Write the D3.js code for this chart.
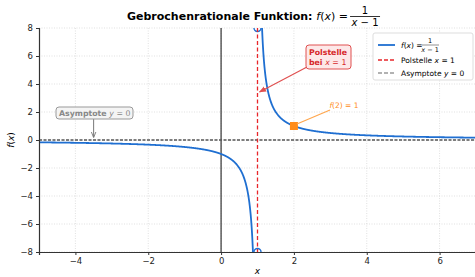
<!DOCTYPE html>
<html>
<head>
<meta charset="utf-8">
<script src="https://cdn.jsdelivr.net/npm/d3@7"></script>
<style>
  body { margin: 0; background: #fff; }
  text { font-family: "DejaVu Sans", sans-serif; }
</style>
</head>
<body>
<div id="chart"></div>
<script>
var width = 475, height = 277;
var margin = {top: 28, right: -1, bottom: 25, left: 39};

// data
var xTicks = [-4, -2, 0, 2, 4, 6];
var yTicks = [-8, -6, -4, -2, 0, 2, 4, 6, 8];
var xDomain = [-5, 7];
var yDomain = [-8, 8];
var pole = 1;
var leftBranchX = d3.range(-5, 0.8751, 0.005);
var rightBranchX = d3.range(1.125, 7.0001, 0.005);
var markedPoint = [2, 1];

var f = function(x){ return 1 / (x - pole); };

var svg = d3.select('#chart').append('svg').attr('width', width).attr('height', height);
var x = d3.scaleLinear().domain(xDomain).range([margin.left, width - margin.right]);
var y = d3.scaleLinear().domain(yDomain).range([height - margin.bottom, margin.top]);

svg.append('defs').append('clipPath').attr('id', 'clip')
  .append('rect').attr('x', x(-5)).attr('y', y(8)).attr('width', x(7) - x(-5)).attr('height', y(-8) - y(8));

// grid
svg.append('g').selectAll('line').data(xTicks).enter().append('line')
  .attr('x1', function(d){ return x(d); }).attr('x2', function(d){ return x(d); })
  .attr('y1', y(8)).attr('y2', y(-8))
  .style('stroke', '#ccc').style('stroke-width', 0.6).style('stroke-dasharray', '1,1.5');
svg.append('g').selectAll('line').data(yTicks).enter().append('line')
  .attr('x1', x(-5)).attr('x2', x(7))
  .attr('y1', function(d){ return y(d); }).attr('y2', function(d){ return y(d); })
  .style('stroke', '#ccc').style('stroke-width', 0.6).style('stroke-dasharray', '1,1.5');

// zero axis
svg.append('line').attr('x1', x(0)).attr('x2', x(0)).attr('y1', y(8)).attr('y2', y(-8))
  .style('stroke', '#333').style('stroke-width', 1.2);

var plot = svg.append('g').attr('clip-path', 'url(#clip)');

// curve
var line = d3.line().x(function(d){ return x(d); }).y(function(d){ return y(f(d)); });
[leftBranchX, rightBranchX].forEach(function(b){
  plot.append('path').datum(b).attr('d', line)
    .style('fill', 'none').style('stroke', '#1f6fd1').style('stroke-width', 1.8);
});
// open end markers at the pole
[8, -8].forEach(function(v){
  plot.append('circle').attr('cx', x(pole)).attr('cy', y(v)).attr('r', 3.5)
    .style('fill', '#fff').style('stroke', '#1f6fd1').style('stroke-width', 1.4);
});

// asymptote y=0
svg.append('line').attr('x1', x(-5)).attr('x2', x(7)).attr('y1', y(0)).attr('y2', y(0))
  .style('stroke', '#555').style('stroke-width', 1.4).style('stroke-dasharray', '3,1.5');
// pole line
svg.append('line').attr('x1', x(pole)).attr('x2', x(pole)).attr('y1', y(8)).attr('y2', y(-8))
  .style('stroke', '#e8262a').style('stroke-width', 1.3).style('stroke-dasharray', '4,2.5');

// axes
var fmt = function(d){ return d < 0 ? '\u2212' + (-d) : d; };
var xAxis = svg.append('g').attr('transform', 'translate(0,' + y(-8) + ')')
  .call(d3.axisBottom(x).tickValues(xTicks).tickSize(3).tickFormat(fmt));
var yAxis = svg.append('g').attr('transform', 'translate(' + x(-5) + ',0)')
  .call(d3.axisLeft(y).tickValues(yTicks).tickSize(3).tickFormat(fmt));
[xAxis, yAxis].forEach(function(a){
  a.select('.domain').style('stroke', '#333').style('stroke-width', 1.2);
  a.selectAll('.tick line').style('stroke', '#333');
  a.selectAll('.tick text').style('font-size', '8.5px').style('fill', '#222').style('font-family', 'DejaVu Sans');
});

// marked point
svg.append('rect').attr('x', x(markedPoint[0]) - 4).attr('y', y(markedPoint[1]) - 4).attr('width', 8).attr('height', 8)
  .style('fill', '#ff8c1a');
svg.append('line').attr('x1', x(markedPoint[0]) + 3).attr('y1', y(markedPoint[1]) - 2)
  .attr('x2', 330).attr('y2', 110).style('stroke', '#ffa64d').style('stroke-width', 1.2);
svg.append('text').attr('x', 344).attr('y', 108).attr('text-anchor', 'middle')
  .style('font-size', '7.5px').style('fill', '#ff8c1a')
  .html('<tspan font-style="italic">f</tspan>(2) = 1');

// pole annotation
svg.append('defs').html('<marker id="arrR" viewBox="0 0 10 10" refX="9" refY="5" markerWidth="6" markerHeight="6" orient="auto"><path d="M0,1 L10,5 L0,9 z" fill="#e05050"/></marker>' +
  '<marker id="arrG" viewBox="0 0 10 10" refX="9" refY="5" markerWidth="6" markerHeight="6" orient="auto"><path d="M0,1 L10,5 L0,9" fill="none" stroke="#777" stroke-width="1.5"/></marker>');
svg.append('line').attr('x1', 307).attr('y1', 67).attr('x2', x(pole) + 2).attr('y2', 92)
  .style('stroke', '#e05050').style('stroke-width', 1.2).attr('marker-end', 'url(#arrR)');
svg.append('rect').attr('x', 306).attr('y', 45).attr('width', 45).attr('height', 24).attr('rx', 3)
  .style('fill', '#fde8e8').style('stroke', '#e05050').style('stroke-width', 1);
svg.append('text').attr('x', 309).attr('y', 55).style('font-size', '7.8px').style('font-weight', 'bold').style('fill', '#d62728').text('Polstelle');
svg.append('text').attr('x', 309).attr('y', 65).style('font-size', '7.8px').style('font-weight', 'bold').style('fill', '#d62728')
  .html('bei <tspan font-style="italic" font-weight="normal">x</tspan><tspan font-weight="normal"> = 1</tspan>');

// asymptote annotation
svg.append('line').attr('x1', x(-3.5)).attr('y1', 119).attr('x2', x(-3.5)).attr('y2', 137)
  .style('stroke', '#777').style('stroke-width', 1).attr('marker-end', 'url(#arrG)');
svg.append('rect').attr('x', 56).attr('y', 107).attr('width', 77).attr('height', 12).attr('rx', 3)
  .style('fill', '#f4f4f4').style('stroke', '#999').style('stroke-width', 1);
svg.append('text').attr('x', 59).attr('y', 116).style('font-size', '7.8px').style('font-weight', 'bold').style('fill', '#888')
  .html('Asymptote <tspan font-style="italic" font-weight="normal">y</tspan><tspan font-weight="normal"> = 0</tspan>');

// legend
var lg = svg.append('g').attr('transform', 'translate(373,33)');
lg.append('rect').attr('width', 100).attr('height', 47).attr('rx', 2)
  .style('fill', '#fff').style('stroke', '#ddd').style('stroke-width', 1);
lg.append('line').attr('x1', 5).attr('x2', 22).attr('y1', 12).attr('y2', 12).style('stroke', '#1f6fd1').style('stroke-width', 1.8);
lg.append('line').attr('x1', 5).attr('x2', 22).attr('y1', 27).attr('y2', 27).style('stroke', '#e8262a').style('stroke-width', 1.3).style('stroke-dasharray', '4,2');
lg.append('line').attr('x1', 5).attr('x2', 22).attr('y1', 40).attr('y2', 40).style('stroke', '#999').style('stroke-width', 1.3).style('stroke-dasharray', '4,2');
lg.append('text').attr('x', 28).attr('y', 14.5).style('font-size', '7.5px').html('<tspan font-style="italic">f</tspan>(<tspan font-style="italic">x</tspan>) =');
lg.append('text').attr('x', 57).attr('y', 10).attr('text-anchor', 'middle').style('font-size', '6.5px').text('1');
lg.append('line').attr('x1', 49).attr('x2', 66).attr('y1', 12).attr('y2', 12).style('stroke', '#222').style('stroke-width', 0.5);
lg.append('text').attr('x', 57).attr('y', 18.5).attr('text-anchor', 'middle').style('font-size', '6.5px')
  .html('<tspan font-style="italic">x</tspan> \u2212 1');
lg.append('text').attr('x', 28).attr('y', 30).style('font-size', '7.5px').html('Polstelle <tspan font-style="italic">x</tspan> = 1');
lg.append('text').attr('x', 28).attr('y', 43).style('font-size', '7.5px').html('Asymptote <tspan font-style="italic">y</tspan> = 0');

// title
var tg = svg.append('g');
var tt = tg.append('text').attr('x', 127).attr('y', 20).style('font-size', '11px').style('font-weight', 'bold')
  .html('Gebrochenrationale Funktion: <tspan font-style="italic" font-weight="normal">f</tspan><tspan font-weight="normal">(</tspan><tspan font-style="italic" font-weight="normal">x</tspan><tspan font-weight="normal">) =</tspan>');
var tEnd = 127 + tt.node().getComputedTextLength();
var fc = tEnd + 17;
tg.append('text').attr('x', fc).attr('y', 14).attr('text-anchor', 'middle').style('font-size', '10px').text('1');
tg.append('line').attr('x1', fc - 15).attr('x2', fc + 15).attr('y1', 16.5).attr('y2', 16.5).style('stroke', '#000').style('stroke-width', 0.8);
tg.append('text').attr('x', fc).attr('y', 26).attr('text-anchor', 'middle').style('font-size', '10px')
  .html('<tspan font-style="italic">x</tspan> \u2212 1');

// axis labels
svg.append('text').attr('x', x(1)).attr('y', 274).attr('text-anchor', 'middle')
  .style('font-size', '9px').style('font-style', 'italic').text('x');
svg.append('text').attr('transform', 'translate(14,' + y(0) + ') rotate(-90)').attr('text-anchor', 'middle')
  .style('font-size', '9px').html('<tspan font-style="italic">f</tspan>(<tspan font-style="italic">x</tspan>)');
</script>
</body>
</html>
